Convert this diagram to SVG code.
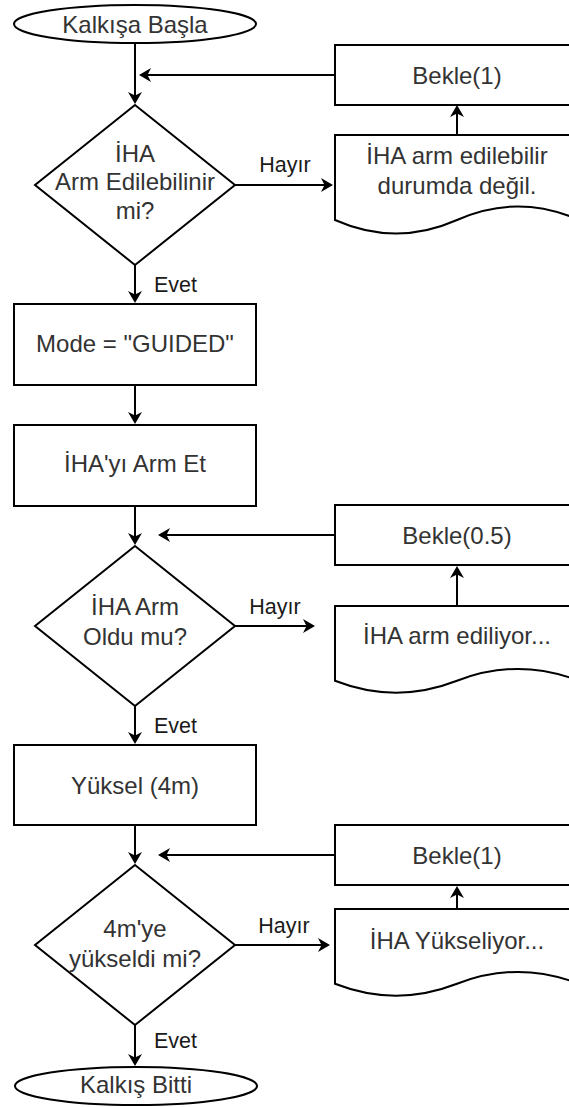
<svg xmlns="http://www.w3.org/2000/svg" width="569" height="1107" viewBox="0 0 569 1107">
  <style>
    .shape { fill: #ffffff; stroke: #000000; stroke-width: 2; }
    .edge { fill: none; stroke: #000000; stroke-width: 2; marker-end: url(#arrow); }
    .txt { font-family: "Liberation Sans", Arial, sans-serif; font-size: 24px; fill: #333333; text-anchor: middle; }
    .lbl { font-family: "Liberation Sans", Arial, sans-serif; font-size: 21.5px; fill: #1a1a1a; }
  </style>
  <defs>
    <!-- classic filled arrowhead; tip sits 6px beyond the line end -->
    <marker id="arrow" viewBox="0 -8 13 16" refX="6" refY="0" markerWidth="13" markerHeight="16" orient="auto" markerUnits="userSpaceOnUse">
      <path d="M12,0 L0,-7 L3.5,0 L0,7 Z" fill="#000000"/>
    </marker>
  </defs>
  <rect width="569" height="1107" fill="#ffffff"/>

  <!-- connectors -->
  <g id="connectors">
    <!-- main vertical flow -->
    <path class="edge" d="M135,43 V98"/>
    <path class="edge" d="M135,265 V297"/>
    <path class="edge" d="M135,385 V418"/>
    <path class="edge" d="M135,506 V539"/>
    <path class="edge" d="M135,706 V738"/>
    <path class="edge" d="M135,825 V858"/>
    <path class="edge" d="M135,1025 V1060"/>
    <!-- "Hayır" branches -->
    <path class="edge" d="M235,185 H327"/>
    <path class="edge" d="M235,626 H309"/>
    <path class="edge" d="M235,945 H324"/>
    <!-- message to wait box -->
    <path class="edge" d="M457,135 V111"/>
    <path class="edge" d="M457,606 V572"/>
    <path class="edge" d="M457,909 V892"/>
    <!-- loop back to decision -->
    <path class="edge" d="M335,75 H145"/>
    <path class="edge" d="M335,535 H164"/>
    <path class="edge" d="M335,855 H164"/>
    <!-- edge labels -->
    <text class="lbl" x="285" y="171.5" text-anchor="middle">Hayır</text>
    <text class="lbl" x="275" y="613.5" text-anchor="middle">Hayır</text>
    <text class="lbl" x="284" y="932.5" text-anchor="middle">Hayır</text>
    <text class="lbl" x="154" y="291.5">Evet</text>
    <text class="lbl" x="154" y="732.5">Evet</text>
    <text class="lbl" x="154" y="1047.5">Evet</text>
  </g>

  <g id="start">
    <ellipse class="shape" cx="135" cy="24" rx="121" ry="19"/>
    <text class="txt" x="135" y="32.5">Kalkışa Başla</text>
  </g>

  <g id="check-armable">
    <path class="shape" d="M135,105 L235,185 L135,265 L35,185 Z"/>
    <text class="txt" x="135" y="161.5">İHA</text>
    <text class="txt" x="135" y="190">Arm Edilebilinir</text>
    <text class="txt" x="135" y="218.5">mi?</text>
  </g>

  <g id="not-armable">
    <path class="shape" d="M335,135 H579 V220 Q518,193 457,220 Q396,247 335,220 Z"/>
    <text class="txt" x="457" y="163.5">İHA arm edilebilir</text>
    <text class="txt" x="457" y="193.5">durumda değil.</text>
  </g>

  <g id="wait-1">
    <rect class="shape" x="335" y="45" width="244" height="60"/>
    <text class="txt" x="457" y="83.5">Bekle(1)</text>
  </g>

  <g id="set-mode">
    <rect class="shape" x="14" y="304" width="242" height="81"/>
    <text class="txt" x="135" y="351.5">Mode = "GUIDED"</text>
  </g>

  <g id="arm">
    <rect class="shape" x="14" y="425" width="242" height="81"/>
    <text class="txt" x="135" y="471.5">İHA'yı Arm Et</text>
  </g>

  <g id="check-armed">
    <path class="shape" d="M135,546 L235,626 L135,706 L35,626 Z"/>
    <text class="txt" x="135" y="614.5">İHA Arm</text>
    <text class="txt" x="135" y="645">Oldu mu?</text>
  </g>

  <g id="arming">
    <path class="shape" d="M335,606 H579 V680.8 Q518,657 457,680.8 Q396,704.6 335,680.8 Z"/>
    <text class="txt" x="457" y="643.5">İHA arm ediliyor...</text>
  </g>

  <g id="wait-05">
    <rect class="shape" x="335" y="505" width="244" height="60"/>
    <text class="txt" x="457" y="543.5">Bekle(0.5)</text>
  </g>

  <g id="climb">
    <rect class="shape" x="14" y="745" width="242" height="80"/>
    <text class="txt" x="135" y="793.5">Yüksel (4m)</text>
  </g>

  <g id="check-altitude">
    <path class="shape" d="M135,865 L235,945 L135,1025 L35,945 Z"/>
    <text class="txt" x="135" y="937">4m'ye</text>
    <text class="txt" x="135" y="967">yükseldi mi?</text>
  </g>

  <g id="climbing">
    <path class="shape" d="M335,909 H579 V983.8 Q518,960 457,983.8 Q396,1007.6 335,983.8 Z"/>
    <text class="txt" x="457" y="948.5">İHA Yükseliyor...</text>
  </g>

  <g id="wait-2">
    <rect class="shape" x="335" y="825" width="244" height="60"/>
    <text class="txt" x="457" y="863.5">Bekle(1)</text>
  </g>

  <g id="end">
    <ellipse class="shape" cx="136" cy="1086" rx="121" ry="19"/>
    <text class="txt" x="136" y="1093">Kalkış Bitti</text>
  </g>
</svg>
